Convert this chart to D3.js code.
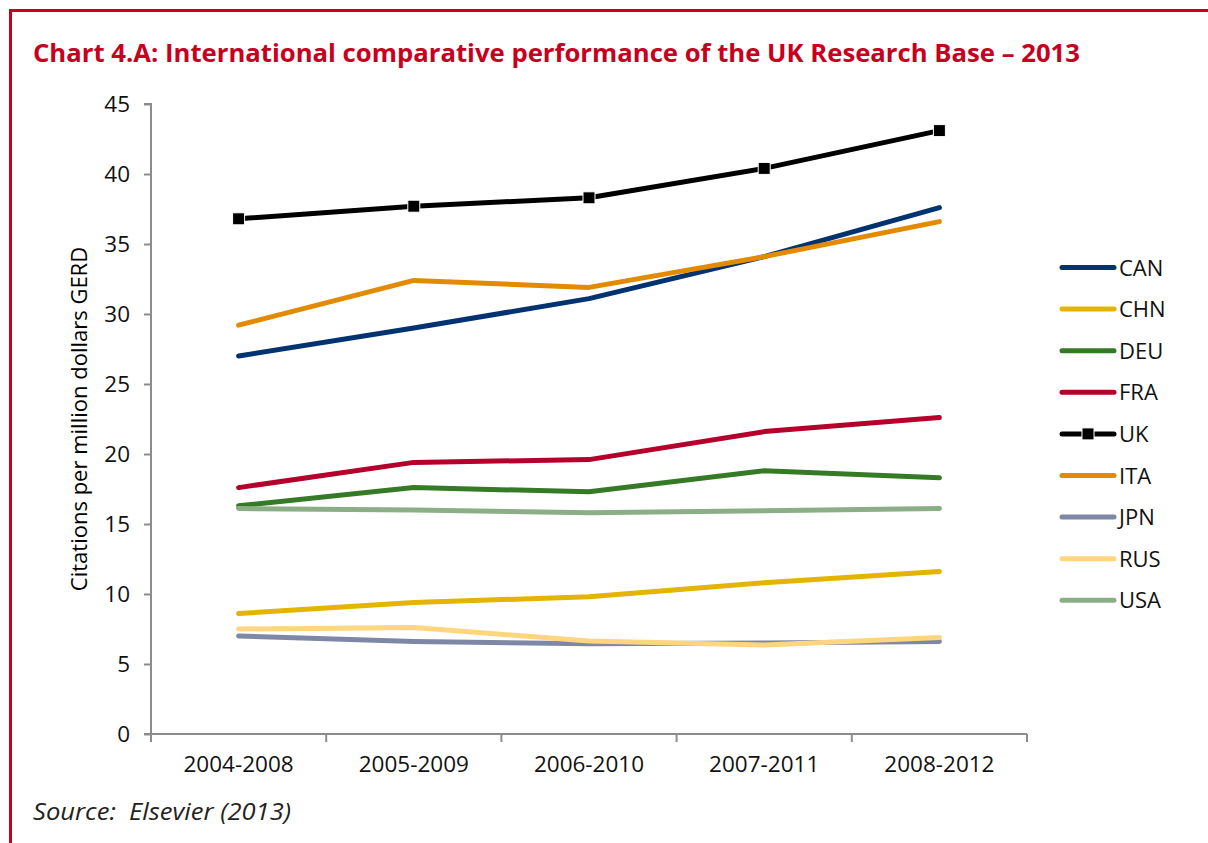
<!DOCTYPE html>
<html>
<head>
<meta charset="utf-8">
<script src="https://cdn.jsdelivr.net/npm/d3@7"></script>
<style>
  body { margin: 0; background: #fff; }
  svg { display: block; font-family: 'Open Sans', 'Noto Sans', sans-serif; }
</style>
</head>
<body>
<script>
var periods = ['2004-2008', '2005-2009', '2006-2010', '2007-2011', '2008-2012'];
var countries = ['CAN', 'CHN', 'DEU', 'FRA', 'UK', 'ITA', 'JPN', 'RUS', 'USA'];
var colors = ['#00336f', '#e3b400', '#357a24', '#b5002c', '#000000', '#e38a00', '#7f87a6', '#ffd57f', '#8bae86'];

var CAN = [27.0, 29.0, 31.1, 34.1, 37.6];
var CHN = [8.6, 9.4, 9.8, 10.8, 11.6];
var DEU = [16.3, 17.6, 17.3, 18.8, 18.3];
var FRA = [17.6, 19.4, 19.6, 21.6, 22.6];
var UK  = [36.8, 37.7, 38.3, 40.4, 43.1];
var ITA = [29.2, 32.4, 31.9, 34.1, 36.6];
var JPN = [7.0, 6.6, 6.45, 6.5, 6.6];
var RUS = [7.5, 7.6, 6.65, 6.35, 6.9];
var USA = [16.1, 16.0, 15.8, 15.95, 16.1];
var yTicks = [0, 5, 10, 15, 20, 25, 30, 35, 40, 45];

var seriesValues = [CAN, CHN, DEU, FRA, UK, ITA, JPN, RUS, USA];
var series = countries.map(function (c, i) {
  return { name: c, color: colors[i], values: seriesValues[i] };
});

var width = 1208, height = 843;
var svg = d3.select('body').append('svg')
  .attr('width', width)
  .attr('height', height);

// red frame (top and left)
svg.append('line')
  .attr('x1', 9).attr('y1', 10.5).attr('x2', width).attr('y2', 10.5)
  .attr('stroke', '#c8001e').attr('stroke-width', 3);
svg.append('line')
  .attr('x1', 10.5).attr('y1', 9).attr('x2', 10.5).attr('y2', height)
  .attr('stroke', '#c8001e').attr('stroke-width', 3);

svg.append('text')
  .attr('x', 33).attr('y', 62)
  .attr('fill', '#c8001e')
  .attr('font-size', 25.7)
  .attr('font-weight', 'bold')
  .attr('textLength', 1047)
  .attr('lengthAdjust', 'spacingAndGlyphs')
  .text('Chart 4.A: International comparative performance of the UK Research Base \u2013 2013');

svg.append('text')
  .attr('x', 33).attr('y', 820)
  .attr('fill', '#222')
  .attr('font-size', 24)
  .attr('font-style', 'italic')
  .attr('textLength', 258)
  .attr('lengthAdjust', 'spacingAndGlyphs')
  .text('Source:\u00a0 Elsevier (2013)');

var x = d3.scaleBand().domain(periods).range([151, 1027]);
var y = d3.scaleLinear().domain([0, 45]).range([734, 104]);

var axisColor = '#8c8c8c';
var tickFont = 22.5;

var yAxis = svg.append('g')
  .attr('transform', 'translate(151,0)')
  .call(d3.axisLeft(y).tickValues(yTicks).tickSize(7).tickPadding(14));
yAxis.select('.domain').attr('stroke', axisColor).attr('stroke-width', 2)
  .attr('d', 'M-7,' + y(45) + 'H0V' + y(0));
yAxis.selectAll('.tick line').attr('stroke', axisColor).attr('stroke-width', 2);
yAxis.selectAll('.tick text').attr('font-size', tickFont).attr('fill', '#111')
  .attr('font-family', "'Open Sans', 'Noto Sans', sans-serif");

var xAxis = svg.append('g')
  .attr('transform', 'translate(0,734)');
xAxis.append('line')
  .attr('x1', 144).attr('x2', 1027)
  .attr('stroke', axisColor).attr('stroke-width', 2);
xAxis.selectAll('.xtick')
  .data(periods.concat(['end']))
  .enter().append('line')
  .attr('x1', function (d, i) { return 151 + i * x.bandwidth(); })
  .attr('x2', function (d, i) { return 151 + i * x.bandwidth(); })
  .attr('y1', 0).attr('y2', 8)
  .attr('stroke', axisColor).attr('stroke-width', 2);
xAxis.selectAll('.xlabel')
  .data(periods)
  .enter().append('text')
  .attr('x', function (d) { return x(d) + x.bandwidth() / 2; })
  .attr('y', 38)
  .attr('text-anchor', 'middle')
  .attr('font-size', tickFont)
  .attr('fill', '#111')
  .text(function (d) { return d; });

svg.append('text')
  .attr('transform', 'translate(87,419) rotate(-90)')
  .attr('text-anchor', 'middle')
  .attr('font-size', 22)
  .attr('fill', '#000')
  .text('Citations per million dollars GERD');

var line = d3.line()
  .x(function (d, i) { return x(periods[i]) + x.bandwidth() / 2; })
  .y(function (d) { return y(d); });

var g = svg.append('g');
g.selectAll('.series')
  .data(series)
  .enter().append('path')
  .attr('d', function (d) { return line(d.values); })
  .attr('fill', 'none')
  .attr('stroke', function (d) { return d.color; })
  .attr('stroke-width', 5)
  .attr('stroke-linecap', 'round')
  .attr('stroke-linejoin', 'round');

var ukSeries = series[countries.indexOf('UK')];
g.selectAll('.uk-marker')
  .data(ukSeries.values)
  .enter().append('rect')
  .attr('x', function (d, i) { return x(periods[i]) + x.bandwidth() / 2 - 6; })
  .attr('y', function (d) { return y(d) - 6; })
  .attr('width', 12).attr('height', 12)
  .attr('fill', '#000')
  .attr('stroke', '#fff').attr('stroke-width', 1);

// legend
var legend = svg.append('g');
var item = legend.selectAll('.item')
  .data(series)
  .enter().append('g')
  .attr('transform', function (d, i) { return 'translate(0,' + (267.5 + i * 41.6) + ')'; });
item.append('line')
  .attr('x1', 1062).attr('x2', 1114)
  .attr('stroke', function (d) { return d.color; })
  .attr('stroke-width', 5)
  .attr('stroke-linecap', 'round');
item.filter(function (d) { return d.name === 'UK'; })
  .append('rect')
  .attr('x', 1082).attr('y', -6).attr('width', 12).attr('height', 12)
  .attr('fill', '#000').attr('stroke', '#fff').attr('stroke-width', 1);
item.append('text')
  .attr('x', 1119).attr('y', 8)
  .attr('font-size', 22)
  .attr('fill', '#111')
  .text(function (d) { return d.name; });
</script>
</body>
</html>
